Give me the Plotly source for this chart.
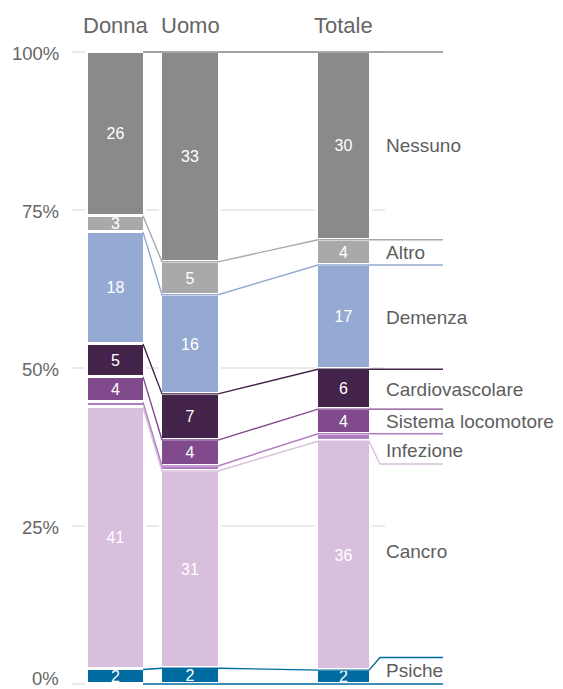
import plotly.graph_objects as go

# ---------------- data ----------------
groups = ["Donna", "Uomo", "Totale"]
causes = ["Psiche", "Cancro", "Infezione", "Sistema locomotore",
          "Cardiovascolare", "Demenza", "Altro", "Nessuno"]
donna = [2.3, 41.5, 0.8, 4.0, 5.2, 17.7, 2.6, 25.9]
uomo = [2.5, 31.2, 0.8, 4.1, 7.3, 15.7, 5.2, 33.2]
totale = [2.2, 36.2, 1.2, 3.9, 6.3, 16.5, 4.0, 29.7]
donna_lbl = ["2", "41", "", "4", "5", "18", "3", "26"]
uomo_lbl = ["2", "31", "", "4", "7", "16", "5", "33"]
totale_lbl = ["2", "36", "", "4", "6", "17", "4", "30"]
y_ticks = [0, 25, 50, 75, 100]
y_tick_labels = ["0%", "25%", "50%", "75%", "100%"]

# ---------------- styles / layout ----------------
colors = ["#006ba1", "#d8bfdd", "#b07cc3", "#804a8c",
          "#45244b", "#95aad3", "#a9a9a9", "#8a8a8a"]
W, H = 563, 689          # page size
OFF = 8                  # default page body margin
PLOT_L = 72              # page x of plot left
PX_PER_PCT = 6.32
PAD_PX = 3
TOP_PX = 52              # page y of 100 %
bar_edges = {"Donna": (88, 143), "Uomo": (162, 218), "Totale": (318, 369)}
STROKE = 3
LINE_END = 443
BEND_X = 380
LABEL_X = 384
GRID_END = 385
bend_targets = {"Cancro": 34.8, "Psiche": 4.2}
label_override = {"Infezione": 37.0, "Psiche": 2.1, "Cancro": 20.9}
tick_shift = {0: 6}      # pixel nudge of the bottom tick label so it stays on the page
FONT = "Liberation Sans, Arial, Helvetica, sans-serif"
TXT = "#5e5e5e"

series = [donna, uomo, totale]
labels = [donna_lbl, uomo_lbl, totale_lbl]
centers = [(bar_edges[g][0] + bar_edges[g][1]) / 2 for g in groups]
widths = [(bar_edges[g][1] - bar_edges[g][0]) + STROKE for g in groups]

fig = go.Figure()

# stacked bars
for i, cause in enumerate(causes):
    fig.add_trace(go.Bar(
        x=centers,
        y=[s[i] for s in series],
        width=widths,
        name=cause,
        marker=dict(color=colors[i], line=dict(color="white", width=STROKE)),
        text=[l[i] for l in labels],
        textposition="inside",
        insidetextanchor="middle",
        textangle=0,
        textfont=dict(color="white", size=16, family=FONT),
        hoverinfo="skip",
        showlegend=False,
    ))


def cum(vals):
    out, t = [], 0
    for v in vals:
        t += v
        out.append(t)
    return out


tops = [cum(s) for s in series]

# connector lines
dR = bar_edges["Donna"][1]
uL, uR = bar_edges["Uomo"]
tL, tR = bar_edges["Totale"]
for i, cause in enumerate(causes):
    td, tu, tt = tops[0][i], tops[1][i], tops[2][i]
    xs = [dR, uL, uR, tL, tR]
    ys = [td, tu, tu, tt, tt]
    if cause in bend_targets:
        xs += [BEND_X, LINE_END]
        ys += [bend_targets[cause], bend_targets[cause]]
    else:
        xs += [LINE_END]
        ys += [tt]
    fig.add_trace(go.Scatter(x=xs, y=ys, mode="lines",
                             line=dict(color=colors[i], width=1.4),
                             hoverinfo="skip", showlegend=False))

# baseline for Psiche
fig.add_trace(go.Scatter(x=[dR, LINE_END], y=[0, 0], mode="lines",
                         line=dict(color=colors[0], width=1.4),
                         hoverinfo="skip", showlegend=False))

# gridlines and y tick labels
for v, t in zip(y_ticks, y_tick_labels):
    fig.add_shape(type="line", x0=PLOT_L, x1=GRID_END, y0=v, y1=v,
                  xref="x", yref="y", layer="below",
                  line=dict(color="#d6d6d6", width=1.2))
    fig.add_annotation(x=PLOT_L, y=v, text=t, showarrow=False,
                       xanchor="right", yanchor="middle",
                       xshift=-11, yshift=tick_shift.get(v, -1),
                       font=dict(size=18.5, color="#666666", family=FONT))

# cause labels at right
for i, cause in enumerate(causes):
    bottom = tops[2][i - 1] if i > 0 else 0
    yc = label_override.get(cause, (bottom + tops[2][i]) / 2)
    fig.add_annotation(x=LABEL_X, y=yc, text=cause, showarrow=False,
                       xanchor="left", yanchor="middle",
                       font=dict(size=19, color=TXT, family=FONT))

# group headers
for g, c in zip(groups, centers):
    fig.add_annotation(x=c, y=100, text=g, showarrow=False,
                       xanchor="center", yanchor="middle", yshift=27,
                       font=dict(size=22, color="#666666", family=FONT))

pad = PAD_PX / PX_PER_PCT
fig_w, fig_h = W - OFF, H - OFF
m_t = TOP_PX - PAD_PX - OFF
m_b = fig_h - m_t - (100 * PX_PER_PCT + 2 * PAD_PX)
fig.update_layout(
    width=fig_w, height=fig_h, autosize=False,
    margin=dict(l=PLOT_L - OFF, r=0, t=m_t, b=m_b),
    barmode="stack", bargap=0,
    plot_bgcolor="white", paper_bgcolor="white",
    uniformtext=dict(minsize=16, mode="show"),
    font=dict(family=FONT),
    xaxis=dict(range=[PLOT_L, W], visible=False, fixedrange=True),
    yaxis=dict(range=[-pad, 100 + pad], showticklabels=False,
               showgrid=False, zeroline=False, showline=False, ticks="",
               automargin=False, fixedrange=True),
)

fig.write_html("out.html")
